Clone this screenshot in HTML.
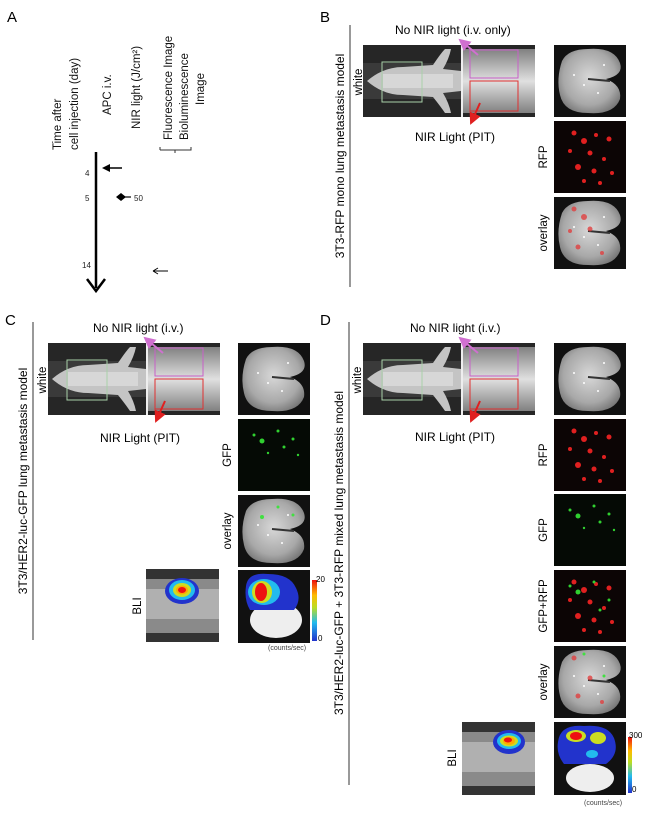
<!DOCTYPE html>
<html><head><meta charset="utf-8"><style>
html,body{margin:0;padding:0;background:#fff;}
svg{display:block;font-family:"Liberation Sans",Arial,sans-serif;}
</style></head><body>
<svg width="650" height="820" viewBox="0 0 650 820" xmlns="http://www.w3.org/2000/svg">
<defs>
<radialGradient id="lg" cx="50%" cy="45%" r="60%"><stop offset="0" stop-color="#d8d8d8"/><stop offset="0.7" stop-color="#a8a8a8"/><stop offset="1" stop-color="#777"/></radialGradient>
<linearGradient id="band" x1="0" y1="0" x2="0" y2="1"><stop offset="0" stop-color="#777"/><stop offset="0.5" stop-color="#eeeeee"/><stop offset="1" stop-color="#777"/></linearGradient>
<linearGradient id="cbar" x1="0" y1="1" x2="0" y2="0"><stop offset="0" stop-color="#2233cc"/><stop offset="0.3" stop-color="#22bbee"/><stop offset="0.55" stop-color="#bbdd22"/><stop offset="0.75" stop-color="#ffbb00"/><stop offset="1" stop-color="#ee1111"/></linearGradient>
<marker id="mk" markerWidth="6" markerHeight="6" refX="5" refY="3" orient="auto"><path d="M0,0 L6,3 L0,6 z" fill="#d070d0"/></marker>
<marker id="mr" markerWidth="6" markerHeight="6" refX="5" refY="3" orient="auto"><path d="M0,0 L6,3 L0,6 z" fill="#e02020"/></marker>
<g id="mouse">
<rect x="0" y="0" width="172" height="72" fill="#262626"/>
<rect x="0" y="18" width="98" height="36" fill="#3a3a3a"/>
<path d="M4,36 Q20,22 40,22 L70,20 Q78,8 82,4 L88,4 Q86,14 80,24 L98,26 L98,46 L80,48 Q86,58 88,68 L82,68 Q78,62 70,52 L40,50 Q20,50 4,36 z" fill="#c4c4c4"/>
<rect x="20" y="29" width="70" height="14" fill="#e0e0e0" opacity="0.7"/>
<rect x="100" y="4" width="72" height="64" fill="#a8a8a8"/>
<rect x="100" y="4" width="72" height="64" fill="url(#band)" opacity="0.8"/>
<rect x="98" y="0" width="2" height="72" fill="#eee"/>
<rect x="19" y="17" width="40" height="40" fill="none" stroke="#a8d0a8" stroke-width="1"/>
<rect x="107" y="5" width="48" height="28" fill="none" stroke="#c860c8" stroke-width="1"/>
<rect x="107" y="36" width="48" height="30" fill="none" stroke="#e03030" stroke-width="1"/>
<line x1="115" y1="10" x2="97" y2="-5" stroke="#d070d0" stroke-width="2" marker-end="url(#mk)"/>
<line x1="117" y1="58" x2="108" y2="78" stroke="#e02020" stroke-width="2" marker-end="url(#mr)"/>
</g>
<g id="lungshape">
<path d="M8,16 Q14,4 34,4 Q60,2 66,18 Q70,30 52,34 Q68,40 66,54 Q60,70 34,68 Q10,68 6,50 Q2,34 8,16 z" fill="url(#lg)"/>
<path d="M34,34 L56,36" stroke="#333" stroke-width="2"/>
</g>
<g id="lung">
<rect x="0" y="0" width="72" height="72" fill="#111"/>
<use href="#lungshape"/>
<circle cx="20" cy="30" r="1" fill="#fff"/><circle cx="30" cy="40" r="1" fill="#fff"/><circle cx="50" cy="20" r="1" fill="#fff"/><circle cx="44" cy="48" r="1" fill="#fff"/>
</g>
<g id="rfp">
<rect x="0" y="0" width="72" height="72" fill="#0c0505"/>
<g fill="#e02020"><circle cx="20" cy="12" r="2.5"/><circle cx="30" cy="20" r="3"/><circle cx="42" cy="14" r="2"/><circle cx="55" cy="18" r="2.5"/><circle cx="16" cy="30" r="2"/><circle cx="36" cy="32" r="2.5"/><circle cx="50" cy="38" r="2"/><circle cx="24" cy="46" r="3"/><circle cx="40" cy="50" r="2.5"/><circle cx="58" cy="52" r="2"/><circle cx="30" cy="60" r="2"/><circle cx="46" cy="62" r="2"/></g>
</g>
<g id="gfp">
<rect x="0" y="0" width="72" height="72" fill="#050a05"/>
<g fill="#30d030"><circle cx="16" cy="16" r="1.5"/><circle cx="24" cy="22" r="2.5"/><circle cx="40" cy="12" r="1.5"/><circle cx="55" cy="20" r="1.5"/><circle cx="46" cy="28" r="1.5"/><circle cx="30" cy="34" r="1.2"/><circle cx="60" cy="36" r="1.2"/></g>
</g>
<g id="bliMouse">
<rect x="0" y="0" width="73" height="73" fill="#8a8a8a"/>
<rect x="0" y="0" width="73" height="10" fill="#333"/>
<rect x="0" y="64" width="73" height="9" fill="#333"/>
<rect x="0" y="20" width="73" height="30" fill="#c0c0c0" opacity="0.7"/>
</g>
</defs>

<!-- Panel A -->
<text x="7" y="22" font-size="15">A</text>
<g font-size="11.5" fill="#111">
<text transform="translate(61,150) rotate(-90)">Time after</text>
<text transform="translate(78,150) rotate(-90)">cell injection (day)</text>
<text transform="translate(111,115) rotate(-90)">APC i.v.</text>
<text transform="translate(140,129) rotate(-90)">NIR light (J/cm²)</text>
<text transform="translate(172,140) rotate(-90)">Fluorescence Image</text>
<text transform="translate(188,140) rotate(-90)">Bioluminescence</text>
<text transform="translate(204,105) rotate(-90)">Image</text>
</g>
<path d="M160,150 L160,147 M160,150 L191,150 L191,147 M175,150 L175,153" stroke="#333" fill="none" stroke-width="1"/>
<line x1="96" y1="152" x2="96" y2="288" stroke="#000" stroke-width="2.5"/>
<path d="M87,279 L96,291 L105,279" stroke="#000" stroke-width="2.5" fill="none"/>
<g font-size="8" fill="#222"><text x="85" y="176">4</text><text x="85" y="201">5</text><text x="82" y="268">14</text><text x="134" y="201">50</text></g>
<line x1="104" y1="168" x2="122" y2="168" stroke="#000" stroke-width="1.5"/><path d="M102,168 L110,164 L110,172 z"/>
<path d="M116,197 L121,193 L126,197 L121,201 z"/><line x1="121" y1="197" x2="131" y2="197" stroke="#000" stroke-width="1.2"/>
<line x1="153" y1="271" x2="168" y2="271" stroke="#000" stroke-width="1"/><path d="M153,271 L158,268 M153,271 L158,274" stroke="#000"/>

<!-- Panel B -->
<text x="320" y="22" font-size="15">B</text>
<line x1="350" y1="25" x2="350" y2="287" stroke="#333" stroke-width="1"/>
<text transform="translate(344,156) rotate(-90)" font-size="12" text-anchor="middle">3T3-RFP mono lung metastasis model</text>
<text transform="translate(362,82) rotate(-90)" font-size="11.5" text-anchor="middle">white</text>
<use href="#mouse" x="363" y="45"/>
<text x="395" y="34" font-size="12">No NIR light (i.v. only)</text>
<text x="415" y="141" font-size="12">NIR Light (PIT)</text>
<use href="#lung" x="554" y="45"/>
<use href="#rfp" x="554" y="121"/>
<g transform="translate(554,197)"><use href="#lung"/><g fill="#e04040" opacity="0.8"><circle cx="20" cy="12" r="2.5"/><circle cx="30" cy="20" r="3"/><circle cx="16" cy="34" r="2"/><circle cx="36" cy="32" r="2.5"/><circle cx="24" cy="50" r="2.5"/><circle cx="48" cy="56" r="2"/></g></g>
<text transform="translate(547,157) rotate(-90)" font-size="11.5" text-anchor="middle">RFP</text>
<text transform="translate(547,233) rotate(-90)" font-size="11.5" text-anchor="middle">overlay</text>

<!-- Panel C -->
<text x="5" y="325" font-size="15">C</text>
<line x1="33" y1="322" x2="33" y2="640" stroke="#333" stroke-width="1"/>
<text transform="translate(27,481) rotate(-90)" font-size="12" text-anchor="middle">3T3/HER2-luc-GFP lung metastasis model</text>
<text transform="translate(46,380) rotate(-90)" font-size="11.5" text-anchor="middle">white</text>
<use href="#mouse" x="48" y="343"/>
<text x="93" y="332" font-size="12">No NIR light (i.v.)</text>
<text x="100" y="442" font-size="12">NIR Light (PIT)</text>
<use href="#lung" x="238" y="343"/>
<use href="#gfp" x="238" y="419"/>
<g transform="translate(238,495)"><use href="#lung"/><g fill="#40e040"><circle cx="24" cy="22" r="2"/><circle cx="40" cy="12" r="1.5"/><circle cx="55" cy="20" r="1.5"/></g></g>
<text transform="translate(231,455) rotate(-90)" font-size="11.5" text-anchor="middle">GFP</text>
<text transform="translate(231,531) rotate(-90)" font-size="11.5" text-anchor="middle">overlay</text>
<use href="#bliMouse" x="146" y="569"/>
<ellipse cx="182" cy="591" rx="17" ry="13" fill="#2233cc"/><ellipse cx="182" cy="590" rx="13" ry="10" fill="#22bbee"/><ellipse cx="182" cy="590" rx="9" ry="7" fill="#ccdd22"/><ellipse cx="182" cy="590" rx="6" ry="4.5" fill="#ffaa00"/><ellipse cx="182" cy="590" rx="4" ry="3" fill="#ee1111"/>
<text transform="translate(141,606) rotate(-90)" font-size="11.5" text-anchor="middle">BLI</text>
<g transform="translate(238,570)"><rect width="72" height="73" fill="#111"/><ellipse cx="38" cy="50" rx="26" ry="18" fill="#eee"/><path d="M8,16 Q10,2 30,4 Q52,4 58,18 Q64,30 56,40 L12,40 Q6,30 8,16 z" fill="#2233cc"/><ellipse cx="26" cy="22" rx="16" ry="13" fill="#22bbee"/><ellipse cx="24" cy="22" rx="10" ry="11" fill="#ccdd22"/><ellipse cx="23" cy="22" rx="6" ry="9" fill="#ee1111"/></g>
<rect x="312" y="580" width="5" height="61" fill="url(#cbar)"/>
<text x="316" y="582" font-size="8">20</text><text x="318" y="641" font-size="8">0</text>
<text x="268" y="650" font-size="7" fill="#444">(counts/sec)</text>

<!-- Panel D -->
<text x="320" y="325" font-size="15">D</text>
<line x1="349" y1="322" x2="349" y2="785" stroke="#333" stroke-width="1"/>
<text transform="translate(343,553) rotate(-90)" font-size="12" text-anchor="middle">3T3/HER2-luc-GFP + 3T3-RFP mixed lung metastasis model</text>
<text transform="translate(361,380) rotate(-90)" font-size="11.5" text-anchor="middle">white</text>
<use href="#mouse" x="363" y="343"/>
<text x="410" y="332" font-size="12">No NIR light (i.v.)</text>
<text x="415" y="441" font-size="12">NIR Light (PIT)</text>
<use href="#lung" x="554" y="343"/>
<use href="#rfp" x="554" y="419"/>
<use href="#gfp" x="554" y="494"/>
<g transform="translate(554,570)"><use href="#rfp"/><g fill="#30d030"><circle cx="16" cy="16" r="1.5"/><circle cx="24" cy="22" r="2.5"/><circle cx="40" cy="12" r="1.5"/><circle cx="55" cy="30" r="1.5"/><circle cx="46" cy="40" r="1.5"/></g></g>
<g transform="translate(554,646)"><use href="#lung"/><g fill="#e04040" opacity="0.8"><circle cx="20" cy="12" r="2.5"/><circle cx="36" cy="32" r="2.5"/><circle cx="24" cy="50" r="2.5"/><circle cx="48" cy="56" r="2"/></g><g fill="#40e040"><circle cx="30" cy="8" r="1.5"/><circle cx="50" cy="30" r="1.5"/></g></g>
<text transform="translate(547,455) rotate(-90)" font-size="11.5" text-anchor="middle">RFP</text>
<text transform="translate(547,530) rotate(-90)" font-size="11.5" text-anchor="middle">GFP</text>
<text transform="translate(547,606) rotate(-90)" font-size="11.5" text-anchor="middle">GFP+RFP</text>
<text transform="translate(547,682) rotate(-90)" font-size="11.5" text-anchor="middle">overlay</text>
<use href="#bliMouse" x="462" y="722"/>
<ellipse cx="509" cy="742" rx="16" ry="12" fill="#2233cc"/><ellipse cx="509" cy="741" rx="12" ry="8" fill="#22bbee"/><ellipse cx="509" cy="741" rx="9" ry="5.5" fill="#ccdd22"/><ellipse cx="509" cy="741" rx="6" ry="4" fill="#ffaa00"/><ellipse cx="508" cy="740" rx="4" ry="2.5" fill="#ee1111"/>
<text transform="translate(456,758) rotate(-90)" font-size="11.5" text-anchor="middle">BLI</text>
<g transform="translate(554,722)"><rect width="72" height="73" fill="#111"/><ellipse cx="36" cy="56" rx="24" ry="14" fill="#eee"/><path d="M4,20 Q6,2 30,4 Q54,2 60,16 Q66,32 52,42 L10,42 Q2,32 4,20 z" fill="#2233cc"/><ellipse cx="22" cy="14" rx="10" ry="6" fill="#ccdd22"/><ellipse cx="22" cy="14" rx="6" ry="4" fill="#ee1111"/><ellipse cx="44" cy="16" rx="8" ry="6" fill="#ccdd22"/><ellipse cx="38" cy="32" rx="6" ry="4" fill="#22bbee"/></g>
<rect x="628" y="737" width="4" height="56" fill="url(#cbar)"/>
<text x="629" y="738" font-size="8">300</text><text x="632" y="792" font-size="8">0</text>
<text x="584" y="805" font-size="7" fill="#444">(counts/sec)</text>
</svg>
</body></html>
